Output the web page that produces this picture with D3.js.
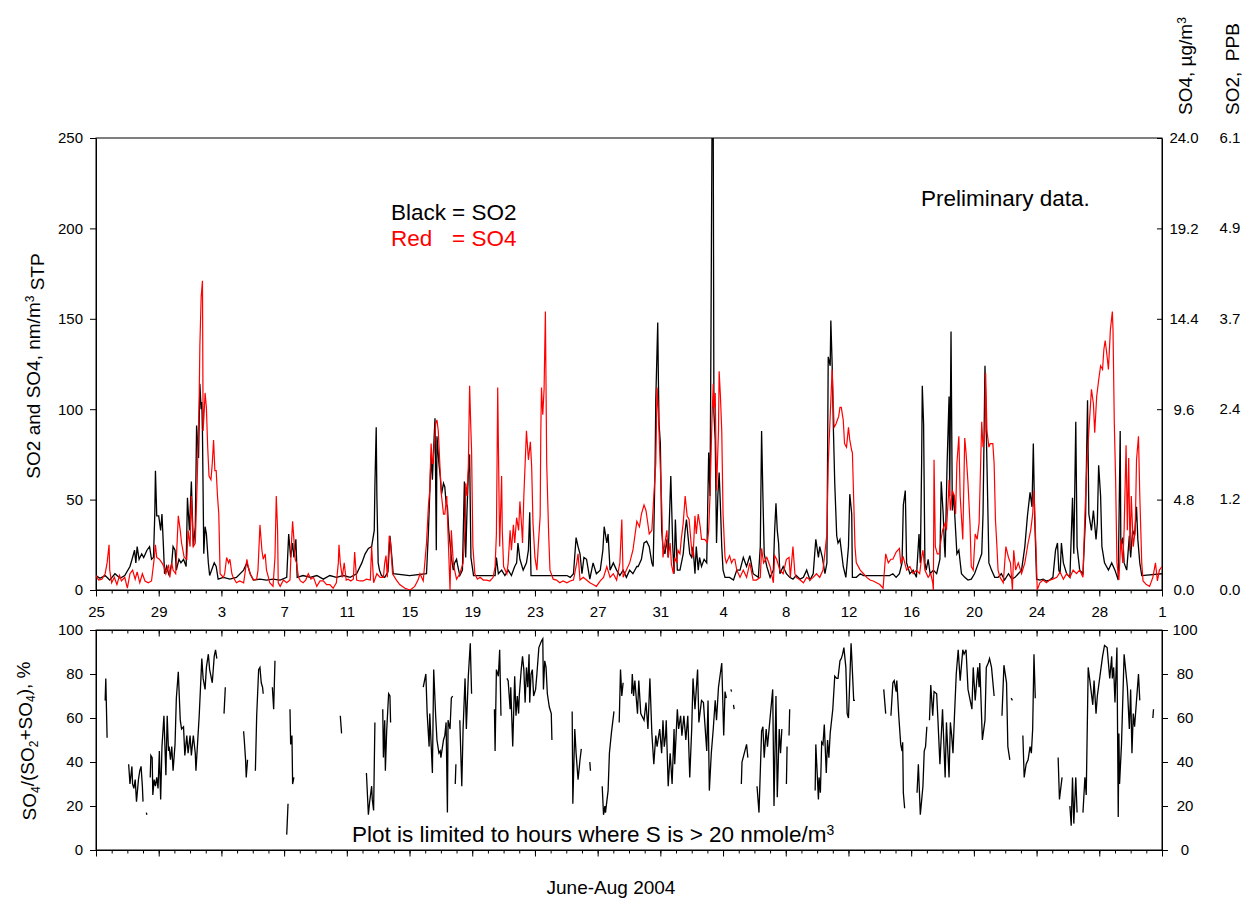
<!DOCTYPE html>
<meta charset="utf-8">
<script src="https://d3js.org/d3.v7.min.js"></script>
<style>
body { margin: 0; background: #fff; }
svg text { font-family: "Liberation Sans", Arial, sans-serif; fill: #000; }
.axis path, .axis line { stroke: #000; stroke-width: 1px; }
.axis text { font-size: 15px; }
.big { font-size: 22.5px; }
.title { font-size: 19px; }
</style>
<div id="my_dataviz"></div>
<script>

// series: [hours since 25 Jun 2004 00:00, nm/m3]
var so2 = [[0,8],[6,6.5],[14,8],[21,5.5],[29,9],[37,6.5],[44,8],[52,13],[56,18],[59,22],[61,15],[63,24],[66,17],[70,20],[73,18],[78,22],[82,24],[85,17],[88,18],[90,42],[91,66],[93,41],[96,41],[99,33],[101,42],[103,26],[105,9],[108,13],[112,8],[116,15],[118,24],[121,22],[123,11],[127,17],[130,15],[134,17],[138,13],[140,51],[143,33],[146,60],[149,24],[152,35],[154,91],[157,73],[159,114],[161,100],[162,104],[163,87],[165,20],[167,35],[169,31],[172,15],[174,8],[181,15],[184,13],[187,6],[195,7],[205,6],[215,7],[226,11],[231,15],[236,9],[241,5.5],[251,6],[261,5.5],[271,6],[282,5.5],[292,7],[295,31],[298,18],[301,26],[303,18],[306,28],[308,7],[317,8],[328,7],[338,8],[348,6],[358,8],[368,7],[379,8],[389,7],[399,9],[407,15],[412,20],[417,23],
  [422,24],[426,33],[427,58],[429,90],[430,52],[432,15],[434,11],[437,8],[442,7],[447,10],[450,30],[453,18],[455,9],[480,8],[506,9],[509,33],[513,75],[515,61],[517,79],[519,95],[521,22],[522,85],[525,70],[527,63],[529,53],[532,59],[534,57],[536,48],[538,46],[540,33],[542,26],[544,18],[547,11],[549,15],[552,17],[554,13],[557,8],[561,11],[564,60],[566,18],[568,44],[570,64],[572,75],[574,18],[578,8],[595,8],[611,8],[613,18],[616,9],[621,11],[626,8],[631,11],[636,8],[641,13],[644,15],[646,26],[649,17],[654,11],[659,15],[662,22],[664,43],[666,8],[690,8],[721,8],[726,7],[731,9],[735,29],[738,24],[741,20],[744,9],[747,18],[751,17],[756,6],[761,15],[766,9],[772,11],[776,22],[778,35],[782,26],[784,31],[787,11],[792,15],[797,11],[802,8],[807,11],[812,7],[817,11],[822,9],[828,13],
  [830,13],[835,17],[839,26],[843,27],[847,24],[851,15],[853,13],[856,70],[857,105],[860,148],[861,116],[862,92],[864,81],[866,33],[868,24],[871,20],[874,28],[876,18],[878,41],[880,63],[883,24],[885,9],[887,39],[890,11],[894,11],[899,20],[902,33],[904,39],[906,31],[909,20],[912,18],[914,24],[917,9],[919,24],[922,11],[924,18],[927,13],[931,17],[935,15],[938,76],[940,52],[941,107],[943,250],[945,250],[946,98],[948,83],[950,26],[952,52],[954,65],[956,46],[958,24],[960,11],[963,7],[970,7],[976,5.5],[981,11],[986,11],[991,18],[996,13],[1001,19],[1006,9],[1014,7],[1017,24],[1019,88],[1021,52],[1023,20],[1027,13],[1032,7],[1037,11],[1039,33],[1041,48],[1043,33],[1045,26],[1047,9],[1052,13],[1057,9],[1062,7],[1067,6],[1072,8],[1078,6],[1083,7],[1088,11],[1093,5.5],[1098,9],[1102,28],[1106,18],[1108,24],[1112,18],[1116,9],[1119,15],[1121,129],[1124,124],[1125,149],[1127,125],[1129,88],[1131,59],[1134,30],[1136,26],[1139,28],[1144,13],[1148,7],[1152,24],[1154,53],[1157,42],[1158,7],[1164,7],[1170,9],[1175,8],[1215,8],[1220,9],[1225,7],[1230,9],[1234,15],[1236,47],[1239,55],[1241,15],
  [1246,9],[1251,11],[1256,7],[1260,31],[1262,15],[1264,70],[1265,113],[1267,92],[1269,15],[1271,11],[1274,17],[1277,9],[1282,11],[1287,9],[1292,17],[1294,60],[1297,42],[1299,24],[1300,18],[1303,70],[1306,107],[1307,52],[1309,143],[1311,44],[1313,53],[1316,33],[1318,20],[1321,22],[1325,9],[1330,7],[1335,5.5],[1340,6],[1345,9],[1351,15],[1356,20],[1358,42],[1361,124],[1363,88],[1365,52],[1367,15],[1371,11],[1376,7],[1381,7],[1386,9],[1391,5.5],[1397,9],[1402,6],[1407,7],[1412,9],[1417,11],[1422,24],[1426,41],[1430,54],[1433,46],[1435,81],[1437,41],[1440,6],[1445,5.5],[1450,6],[1455,5],[1460,5.5],[1465,7],[1469,22],[1472,26],[1474,11],[1476,9],[1478,26],[1481,15],[1486,9],[1491,7],[1495,51],[1497,20],[1500,93],[1502,24],[1506,11],[1511,9],[1515,41],[1518,105],[1520,42],[1524,33],[1527,44],[1531,28],[1533,37],[1535,69],[1538,52],[1540,24],[1544,15],[1550,11],[1555,15],[1560,11],[1565,5.5],[1568,88],[1569,24],[1572,29],[1574,15],[1578,11],[1582,30],[1584,18],[1587,33],[1590,30],[1593,46],[1595,28],[1598,15],[1601,8],[1632,9]];

var so4 = [[0,8],[4,5.5],[9,6],[14,9],[17,15],[20,25],[21,11],[24,4],[28,7],[32,3],[36,8],[39,5],[44,7],[48,1],[52,9],[56,11],[60,6],[63,10],[67,4],[71,9],[75,5],[80,4],[85,5],[89,17],[91,25],[93,18],[97,17],[101,15],[104,13],[107,9],[111,14],[113,7],[116,15],[118,11],[122,9],[126,41],[129,33],[131,26],[135,18],[139,17],[141,33],[144,24],[146,52],[149,24],[152,26],[155,61],[158,107],[159,135],[161,162],[163,171],[164,88],[166,101],[167,109],[169,101],[171,79],[173,63],[176,61],[178,70],[180,83],[182,66],[184,66],[186,52],[188,42],[190,9],[195,7],[197,9],[200,18],[203,15],[205,17],[208,9],[210,7],[215,4],[220,5],[226,4],[228,9],[231,17],[233,13],[236,9],[241,5.5],[246,6],[248,11],[251,36],[254,22],[256,17],[259,20],[261,11],[264,7],[266,4],[271,2],[274,18],[276,52],[278,33],[279,4],[282,2],[287,5.5],[292,4],[297,5.5],[299,24],[301,38],[303,28],[305,17],[307,15],[310,7],[313,5],[317,4],[321,5.5],[325,9],[329,6],[333,7],[338,2],[343,5],[348,5],[353,3],[358,3],[363,1],[368,4],[371,15],[372,25],[374,15],[377,7],[380,15],[383,5.5],[386,6],[390,5],[394,6],[396,21],[399,5.5],[404,5],[409,5],[414,6],
  [420,5.5],[422,24],[425,4],[430,9],[435,7],[440,7],[442,15],[444,19],[446,7],[449,30],[451,26],[454,9],[460,5.5],[465,3],[473,1],[481,0],[488,2],[493,5.5],[496,9],[501,5],[506,26],[509,47],[511,55],[513,81],[515,70],[516,70],[520,92],[522,94],[524,88],[527,65],[529,52],[532,42],[534,42],[537,52],[539,31],[542,0],[544,33],[547,15],[549,11],[552,6],[557,9],[562,15],[565,33],[566,59],[568,52],[570,68],[572,113],[574,88],[575,77],[577,24],[580,9],[584,6],[588,7],[593,5.5],[598,5.5],[603,5],[608,7],[611,13],[613,31],[614,70],[615,112],[617,52],[618,24],[621,63],[622,33],[624,13],[629,9],[631,15],[634,33],[636,22],[639,36],[641,26],[644,40],[647,33],[649,49],[652,33],[653,26],[655,52],[657,70],[659,88],[662,72],[665,82],[667,68],[669,37],[672,18],[675,11],[677,24],[680,41],[681,88],[682,112],[684,97],[686,111],[688,154],[690,70],[693,31],[695,11],[700,6],[705,5.5],[710,4],[715,5],[721,4],[726,5],[731,5.5],[736,15],[738,20],[741,5.5],[746,7],[751,5.5],[756,4],[761,3],[766,2],[772,5],[777,7],[782,13],[787,7],[792,9],[797,5.5],[802,15],[805,39],[807,7],[812,11],[817,15],[822,22],[828,38],
  [832,35],[835,42],[839,47],[842,44],[844,39],[847,31],[851,33],[854,52],[857,70],[859,112],[861,98],[863,77],[866,48],[868,18],[871,26],[874,33],[876,18],[879,26],[881,14],[884,9],[886,18],[889,15],[891,22],[894,20],[896,28],[899,37],[902,52],[905,41],[908,39],[912,22],[914,18],[917,41],[919,31],[922,42],[925,35],[927,28],[932,28],[936,26],[938,33],[940,52],[943,94],[945,114],[946,101],[948,109],[950,55],[953,88],[954,121],[956,107],[958,88],[960,42],[963,18],[965,15],[970,19],[973,15],[976,17],[978,17],[981,11],[986,7],[991,11],[996,7],[1001,15],[1006,5.5],[1011,5.5],[1017,7],[1019,23],[1022,15],[1027,18],[1032,13],[1037,4],[1039,19],[1042,17],[1047,11],[1052,9],[1057,17],[1061,18],[1063,7],[1067,24],[1070,9],[1072,7],[1078,5.5],[1083,4],[1088,7],[1093,5.5],[1098,7],[1103,9],[1108,7],[1113,11],[1119,31],[1121,70],[1124,96],[1127,122],[1130,90],[1133,92],[1135,94],[1137,96],[1139,101],[1141,101],[1144,94],[1146,81],[1149,79],[1152,90],[1154,83],[1157,77],[1158,76],[1160,50],[1162,24],[1164,15],[1170,11],[1175,9],[1180,7],[1185,5.5],[1190,5],[1195,4],[1200,3],[1205,1],[1209,20],[1213,15],[1217,17],[1220,17],[1225,21],[1230,23],[1232,15],[1236,18],[1241,11],[1246,13],
  [1251,9],[1256,11],[1261,9],[1264,18],[1266,22],[1269,11],[1274,7],[1278,9],[1281,4],[1282,0],[1283,72],[1285,24],[1288,20],[1291,20],[1293,26],[1296,33],[1300,37],[1302,33],[1305,52],[1306,61],[1308,44],[1311,55],[1314,52],[1316,42],[1318,70],[1321,85],[1323,52],[1327,28],[1330,84],[1332,76],[1335,59],[1338,37],[1340,13],[1343,11],[1346,31],[1349,28],[1352,37],[1356,93],[1358,79],[1361,88],[1362,120],[1364,88],[1367,79],[1369,81],[1373,81],[1375,70],[1377,39],[1379,26],[1381,11],[1384,7],[1389,4],[1393,24],[1397,18],[1400,15],[1403,0],[1405,22],[1408,11],[1412,15],[1417,9],[1422,15],[1427,26],[1431,33],[1434,42],[1436,55],[1439,24],[1441,0],[1445,4],[1450,5.5],[1455,4],[1460,5.5],[1465,6],[1471,7],[1476,10],[1481,6],[1486,9],[1491,7],[1496,11],[1501,9],[1506,11],[1511,7],[1514,42],[1517,70],[1520,88],[1524,111],[1527,103],[1529,87],[1532,107],[1535,116],[1538,124],[1541,122],[1543,133],[1545,138],[1548,129],[1550,122],[1553,144],[1556,154],[1557,144],[1559,92],[1561,61],[1563,15],[1566,5.5],[1569,28],[1572,15],[1574,33],[1577,80],[1579,33],[1581,73],[1583,22],[1585,52],[1588,24],[1591,33],[1593,72],[1596,85],[1598,52],[1601,15],[1603,5],[1608,3],[1613,2],[1618,7],[1622,15],[1625,5],[1628,11],[1632,13]];

// SO4/(SO2+SO4) %, only hours with S > 20 nmole/m3, so it comes in pieces
var ratioSegments = [
  [[14,68],[15,78],[17,51]],
  [[50,39],[52,30],[55,38],[56,30],[58,28],[60,32],[62,22],[65,32],[67,36],[69,38],[71,29],[72,22]],
  [[77,17],[78,16]],
  [[83,33],[84,43],[86,42],[87,25],[89,32],[91,29],[93,33],[95,28],[97,45],[99,23],[101,47],[104,61],[107,34],[109,61],[111,45],[112,47],[114,41],[116,47],[118,36],[121,48],[123,69],[126,81],[129,59],[131,55],[134,56],[136,43],[139,52],[141,44],[144,52],[146,43],[149,52],[152,44],[153,36],[155,46],[158,61],[160,74],[162,87],[164,78],[167,73],[169,83],[172,89],[174,82],[178,76],[181,88],[183,91],[185,87]],
  [[196,62],[198,74]],
  [[226,54],[227,50],[229,41],[230,33],[232,41]],
  [[244,36],[246,61],[249,82],[251,83],[253,76],[255,74],[256,71]],
  [[270,74],[272,64],[274,86]],
  [[292,7],[294,21]],
  [[297,64],[298,48],[300,52],[301,30],[303,33]],
  [[374,61],[376,53]],
  [[414,35],[417,16],[419,22],[422,29],[423,23],[425,18],[427,58]],
  [[439,64],[440,42],[442,59],[443,36],[445,54],[448,71],[450,70],[451,58]],
  [[501,74],[505,80],[507,62],[510,47],[511,62],[515,35],[517,82],[520,61],[522,50],[525,44],[527,45],[528,42],[532,50],[534,52],[536,58],[538,17],[539,59],[542,55],[544,69],[546,70]],
  [[550,30],[551,39]],
  [[557,59],[560,29],[562,55],[565,78],[567,55],[570,79],[573,94],[575,71]],
  [[610,64],[611,45],[613,82],[616,79],[618,91],[620,61]],
  [[629,78],[631,77],[634,64],[635,74],[638,47],[641,79],[643,61],[645,70],[647,62],[648,70],[651,82],[653,88],[655,82],[657,67],[659,83],[661,74],[663,89],[664,67],[666,80],[668,82],[670,70],[673,73],[675,80],[678,92],[682,95],[684,96],[685,73],[687,86],[689,83],[691,71],[694,65],[697,62],[698,50]],
  [[729,63],[730,21],[733,55],[735,44],[738,32],[741,41],[743,46]],
  [[756,40],[757,36]],
  [[775,29],[777,16],[779,20],[780,17],[784,27],[786,44],[789,53],[793,63]],
  [[801,58],[803,82],[805,70],[807,76]],
  [[820,71],[821,80],[823,70],[825,77],[829,62],[831,77],[834,62],[839,59],[842,67],[845,55],[848,78],[851,53],[854,39],[857,52],[859,47],[863,55],[866,44],[868,59],[870,47],[872,52],[873,59],[876,29],[879,44],[882,30],[885,55],[886,39],[890,64],[892,55],[895,61],[897,52],[900,61],[903,50],[906,61],[909,33],[912,55],[914,78],[917,64],[921,82],[923,58],[927,68],[930,67],[932,58],[935,45],[937,68],[939,27],[942,44],[945,55],[948,68],[950,59],[953,74],[958,85],[961,52],[963,72],[965,69]],
  [[972,73],[973,72]],
  [[976,66],[977,64]],
  [[988,30],[989,40],[996,48],[998,42]],
  [[1012,29],[1015,17],[1019,54],[1021,56],[1023,42],[1026,55],[1028,47],[1036,73],[1038,20],[1041,70],[1043,24],[1046,55],[1048,44],[1050,55]],
  [[1057,30],[1058,47]],
  [[1061,52],[1062,64]],
  [[1101,27],[1102,48],[1106,23],[1107,33],[1109,26],[1111,49],[1113,48],[1115,57],[1118,35],[1120,50],[1122,42],[1124,53],[1128,64],[1131,79],[1134,78],[1136,78],[1139,86],[1141,87],[1143,89],[1145,92],[1148,83],[1150,62],[1152,60],[1154,77],[1156,94],[1157,88],[1160,68],[1162,68]],
  [[1206,73],[1209,62]],
  [[1217,61],[1220,76],[1222,77],[1225,72],[1226,77],[1229,61],[1232,48],[1234,45],[1235,49],[1236,26],[1238,19]],
  [[1257,26],[1259,39],[1262,16],[1266,29],[1268,45],[1270,47],[1272,56]],
  [[1276,59],[1278,75],[1281,61],[1283,72],[1287,71],[1289,59],[1292,39],[1296,64],[1300,33],[1302,58],[1306,33],[1308,58],[1310,52],[1312,44],[1314,59],[1317,80],[1320,91],[1323,77],[1327,91],[1329,89],[1332,91],[1335,73],[1341,64],[1343,83],[1346,68],[1350,83],[1352,74],[1353,85],[1357,50],[1361,59],[1363,83],[1366,85],[1368,87],[1371,83],[1375,70]],
  [[1387,61],[1390,84],[1394,76],[1396,47],[1399,41]],
  [[1401,69],[1403,68]],
  [[1419,52],[1421,33],[1424,39],[1427,41],[1430,47],[1432,44],[1434,55],[1436,89],[1438,69]],
  [[1473,42],[1475,23],[1479,33]],
  [[1491,20],[1493,11],[1495,33],[1497,12],[1500,33],[1502,17]],
  [[1511,17],[1514,33],[1516,25],[1519,83],[1522,76],[1526,66],[1528,77],[1531,62],[1533,70],[1537,79],[1541,88],[1544,93],[1548,92],[1552,78],[1555,88],[1556,78],[1558,83],[1560,67],[1563,92],[1565,15],[1566,53],[1567,30],[1570,48],[1574,89],[1579,74],[1582,55],[1584,73],[1586,44],[1588,62],[1590,56],[1593,68],[1596,80],[1598,68]],
  [[1618,60],[1619,64]]
];

// axis ticks and labels
var leftTicks = [0, 50, 100, 150, 200, 250];
var so4TickLabels = ["0.0", "4.8", "9.6", "14.4", "19.2", "24.0"];
var so2TickLabels = ["0.0", "1.2", "2.4", "3.7", "4.9", "6.1"];
var ratioTicks = [0, 20, 40, 60, 80, 100];
var startDate = Date.UTC(2004, 5, 25), endDate = Date.UTC(2004, 8, 1);

var svg = d3.select("#my_dataviz")
  .append("svg")
    .attr("width", 1244)
    .attr("height", 898);

var x = d3.scaleUtc()
  .domain([new Date(startDate), new Date(endDate)])
  .range([96, 1162]);
var y = d3.scaleLinear().domain([0, 250]).range([590, 138]);
var yr = d3.scaleLinear().domain([0, 100]).range([850, 630]);

function toDate(h) { return new Date(startDate + h * 3600000); }

var days = d3.utcDay.range(new Date(startDate), new Date(endDate + 86400000));
var majorDays = days.filter(function(d, i) { return i % 4 == 0; });

// day ticks along a horizontal line; minor every day, long one every 4 days
function dayAxis(yPos, withLabels) {
  svg.append("g")
    .attr("class", "axis")
    .attr("transform", "translate(0," + yPos + ")")
    .call(d3.axisBottom(x).tickValues(days).tickSize(3.5).tickSizeOuter(0).tickFormat(""));
  var g = svg.append("g")
    .attr("class", "axis")
    .attr("transform", "translate(0," + yPos + ")")
    .call(d3.axisBottom(x).tickValues(majorDays).tickSize(6.5).tickSizeOuter(0)
      .tickPadding(10)
      .tickFormat(withLabels ? d3.utcFormat("%-d") : ""));
  g.select(".domain").remove();
}

// frames
svg.append("rect").attr("x", 96).attr("y", 138).attr("width", 1066).attr("height", 452)
  .attr("fill", "none").attr("stroke", "#000");
svg.append("rect").attr("x", 96).attr("y", 630).attr("width", 1066).attr("height", 220)
  .attr("fill", "none").attr("stroke", "#000");

dayAxis(590, true);
dayAxis(630, false);
dayAxis(850, false);

// top panel y axes
svg.append("g")
  .attr("class", "axis")
  .attr("transform", "translate(96,0)")
  .call(d3.axisLeft(y).tickValues(leftTicks).tickSize(6).tickPadding(7).tickSizeOuter(0));

svg.append("g")
  .attr("class", "axis")
  .attr("transform", "translate(1162,0)")
  .call(d3.axisRight(y).tickValues(leftTicks).tickSizeInner(-5).tickSizeOuter(0)
    .tickFormat(function(d, i) { return so4TickLabels[i]; }))
  .selectAll("text")
    .attr("x", 22)
    .style("text-anchor", "middle");

svg.append("g")
  .selectAll("text")
  .data(leftTicks)
  .enter()
  .append("text")
    .attr("x", 1230)
    .attr("y", function(d) { return y(d); })
    .attr("dy", "0.32em")
    .attr("text-anchor", "middle")
    .style("font-size", "15px")
    .text(function(d, i) { return so2TickLabels[i]; });

// bottom panel y axes
svg.append("g")
  .attr("class", "axis")
  .attr("transform", "translate(96,0)")
  .call(d3.axisLeft(yr).tickValues(ratioTicks).tickSize(6).tickPadding(7).tickSizeOuter(0));

svg.append("g")
  .attr("class", "axis")
  .attr("transform", "translate(1162,0)")
  .call(d3.axisRight(yr).tickValues(ratioTicks).tickSize(6).tickSizeOuter(0))
  .selectAll("text")
    .attr("x", 23)
    .style("text-anchor", "middle");

// lines
svg.append("clipPath").attr("id", "clipTop")
  .append("rect").attr("x", 96).attr("y", 138).attr("width", 1066).attr("height", 452);

var line = d3.line()
  .x(function(d) { return x(toDate(d[0])); })
  .y(function(d) { return y(d[1]); });

svg.append("path")
  .datum(so2)
  .attr("clip-path", "url(#clipTop)")
  .attr("fill", "none")
  .attr("stroke", "#000")
  .attr("stroke-width", 1.3)
  .attr("d", line);

svg.append("path")
  .datum(so4)
  .attr("clip-path", "url(#clipTop)")
  .attr("fill", "none")
  .attr("stroke", "#ff0000")
  .attr("stroke-width", 1.2)
  .attr("d", line);

var ratioLine = d3.line()
  .x(function(d) { return x(toDate(d[0])); })
  .y(function(d) { return yr(d[1]); });

svg.append("g")
  .selectAll("path")
  .data(ratioSegments)
  .enter()
  .append("path")
    .attr("fill", "none")
    .attr("stroke", "#000")
    .attr("stroke-width", 1.3)
    .attr("d", ratioLine);

// annotations
svg.append("text").attr("class", "big").attr("x", 391).attr("y", 220).text("Black");
svg.append("text").attr("class", "big").attr("x", 452).attr("y", 220).text("= SO2");
svg.append("text").attr("class", "big").attr("x", 391).attr("y", 246).style("fill", "#ff0000").text("Red");
svg.append("text").attr("class", "big").attr("x", 452).attr("y", 246).style("fill", "#ff0000").text("= SO4");
svg.append("text").attr("class", "big").attr("x", 921).attr("y", 206).text("Preliminary data.");

var note = svg.append("text").attr("class", "big").attr("x", 352).attr("y", 842);
note.append("tspan").text("Plot is limited to hours where S is > 20 nmole/m");
note.append("tspan").attr("dy", "-0.5em").style("font-size", "14px").text("3");

svg.append("text").attr("class", "title")
  .attr("x", 611).attr("y", 894).attr("text-anchor", "middle")
  .text("June-Aug 2004");

// axis titles
var lt = svg.append("text").attr("class", "title")
  .attr("transform", "translate(40,366) rotate(-90)")
  .attr("text-anchor", "middle");
lt.append("tspan").text("SO2 and SO4, nm/m");
lt.append("tspan").attr("dy", "-0.5em").style("font-size", "12px").text("3");
lt.append("tspan").attr("dy", "0.5em").text(" STP");

var bt = svg.append("text").attr("class", "title")
  .attr("transform", "translate(36,741) rotate(-90)")
  .attr("text-anchor", "middle");
bt.append("tspan").text("SO");
bt.append("tspan").attr("dy", "0.3em").style("font-size", "12px").text("4");
bt.append("tspan").attr("dy", "-0.3em").text("/(SO");
bt.append("tspan").attr("dy", "0.3em").style("font-size", "12px").text("2");
bt.append("tspan").attr("dy", "-0.3em").text("+SO");
bt.append("tspan").attr("dy", "0.3em").style("font-size", "12px").text("4");
bt.append("tspan").attr("dy", "-0.3em").text("), %");

var rt = svg.append("text").attr("class", "title")
  .attr("transform", "translate(1192,115) rotate(-90)");
rt.append("tspan").text("SO4, \u00b5g/m");
rt.append("tspan").attr("dy", "-0.5em").style("font-size", "12px").text("3");

svg.append("text").attr("class", "title")
  .attr("transform", "translate(1239,115) rotate(-90)")
  .style("white-space", "pre")
  .text("SO2,  PPB");

</script>
